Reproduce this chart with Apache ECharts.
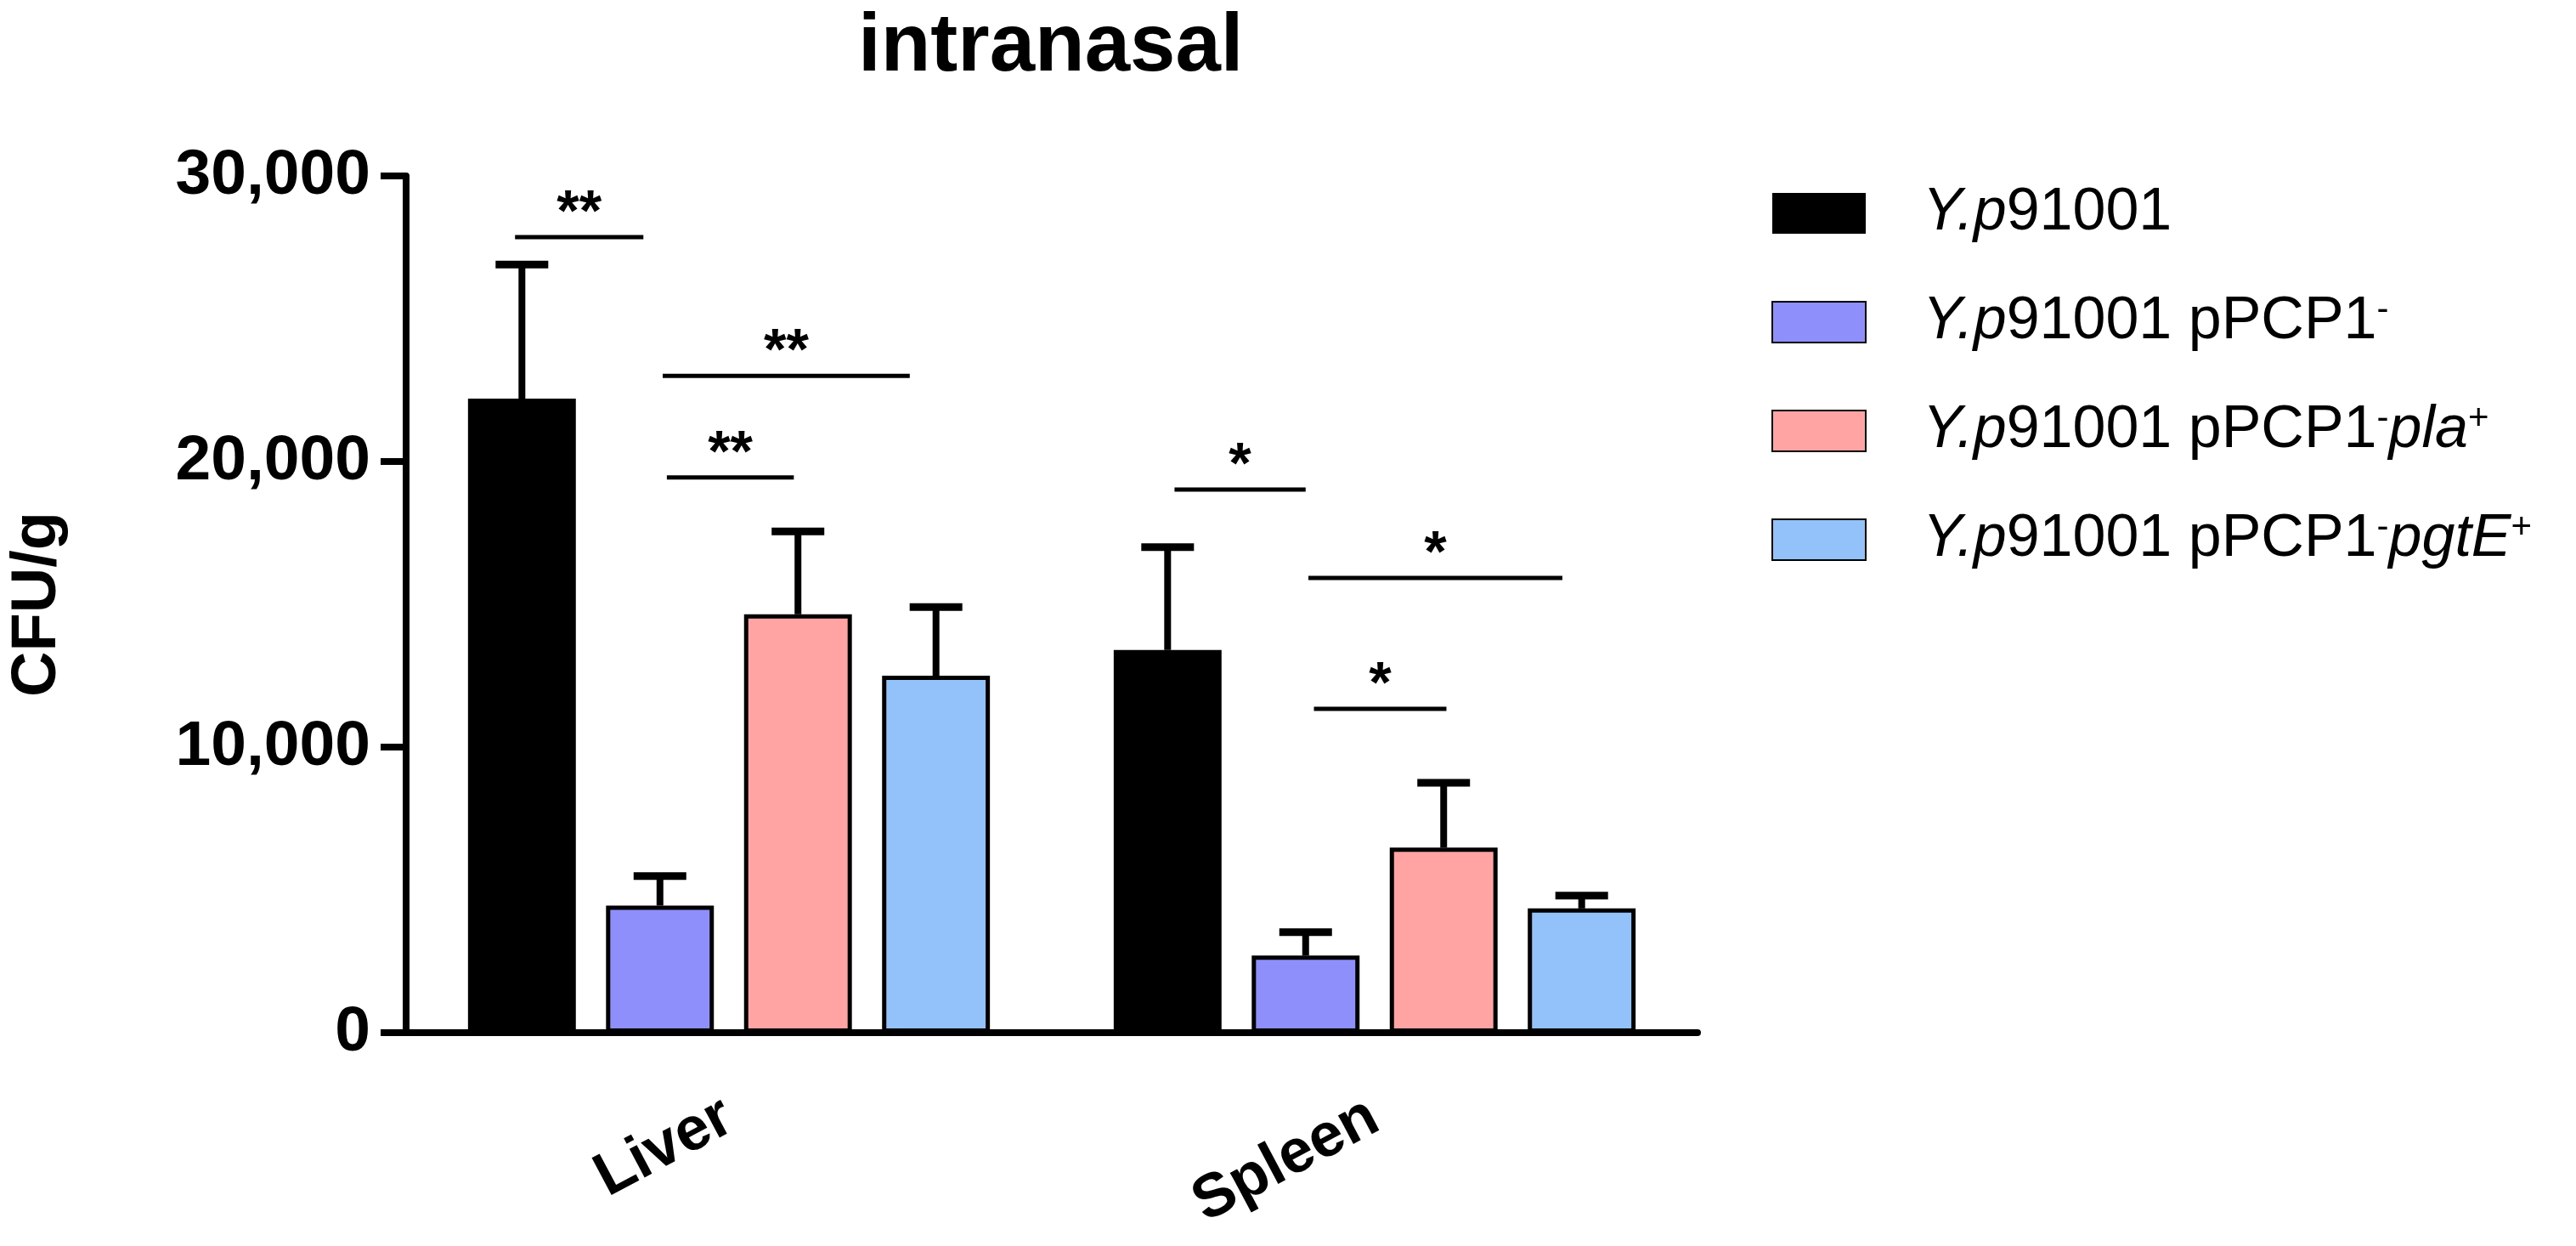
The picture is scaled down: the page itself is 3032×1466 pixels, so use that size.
<!DOCTYPE html>
<html>
<meta charset="utf-8" />
<head>
  <script src="https://cdn.jsdelivr.net/npm/echarts@6/dist/echarts.min.js"></script>
  <style>
    html, body { margin: 0; padding: 0; background: #fff; }
    .chart { width: 3032px; height: 1466px; }
  </style>
</head>
<body>
  <div class="chart" id="chart"></div>
  <script>
    // categories and values
    const categories = ["Liver", "Spleen"];
    const seriesNames = [
      "Y.p91001",
      "Y.p91001 pPCP1-",
      "Y.p91001 pPCP1-pla+",
      "Y.p91001 pPCP1-pgtE+",
    ];
    const ypMean = [22200, 13400];
    const pcpMean = [4450, 2700];
    const plaMean = [14650, 6480];
    const pgtEMean = [12500, 4350];
    // top of each error bar (mean + SD)
    const ypUpper = [26900, 17000];
    const pcpUpper = [5480, 3520];
    const plaUpper = [17550, 8750];
    const pgtEUpper = [14900, 4800];
    // significance brackets: category, height, from / to (bar slot units), mark
    const sigCat = [0, 0, 0, 1, 1, 1];
    const sigY = [27860, 23000, 19440, 19020, 15920, 11340];
    const sigFrom = [-0.05, 1.02, 1.05, 0.05, 1.02, 1.06];
    const sigTo = [0.88, 2.81, 1.97, 1.0, 2.86, 2.02];
    const sigMark = ["**", "**", "**", "*", "*", "*"];
    const yTicks = [0, 10000, 20000, 30000];

    const colors = ["#000000", "#8F8FFC", "#FFA3A3", "#93C1F9"];
    const means = [ypMean, pcpMean, plaMean, pgtEMean];
    const uppers = [ypUpper, pcpUpper, plaUpper, pgtEUpper];

    const FONT = "'Liberation Sans', Arial, sans-serif";
    const BAR_FRAC = 0.167;
    const GAP_FRAC = 0.28;

    function slotX(api, cat, slot) {
      const c = api.coord([cat, 0]);
      const band = api.size([1, 0])[0];
      const pitch = band * BAR_FRAC * (1 + GAP_FRAC);
      return c[0] + (slot - 1.5) * pitch;
    }

    const barSeries = seriesNames.map((name, i) => ({
      name: name,
      type: "bar",
      data: means[i],
      barWidth: BAR_FRAC * 100 + "%",
      barGap: GAP_FRAC * 100 + "%",
      itemStyle: {
        color: colors[i],
        borderColor: "#000",
        borderWidth: i === 0 ? 0 : 5,
      },
      emphasis: { disabled: true },
      z: 2,
    }));

    const errData = [];
    means.forEach((m, i) => {
      m.forEach((v, c) => errData.push([c, v, uppers[i][c], i]));
    });

    const errSeries = {
      type: "custom",
      name: "err",
      data: errData,
      encode: { x: 0, y: [1, 2] },
      z: 3,
      silent: true,
      renderItem: function (params, api) {
        const cat = api.value(0);
        const x = slotX(api, cat, api.value(3));
        const y0 = api.coord([cat, api.value(1)])[1];
        const y1 = api.coord([cat, api.value(2)])[1];
        return {
          type: "group",
          children: [
            { type: "line", shape: { x1: x, y1: y0, x2: x, y2: y1 }, style: { stroke: "#000", lineWidth: 8 } },
            { type: "line", shape: { x1: x - 31, y1: y1, x2: x + 31, y2: y1 }, style: { stroke: "#000", lineWidth: 9 } },
          ],
        };
      },
    };

    const sigSeries = {
      type: "custom",
      name: "sig",
      data: sigY.map((y, i) => [sigCat[i], y]),
      encode: { x: 0, y: 1 },
      z: 4,
      silent: true,
      renderItem: function (params, api) {
        const i = params.dataIndex;
        const cat = api.value(0);
        const y = api.coord([cat, api.value(1)])[1];
        const xa = slotX(api, cat, sigFrom[i]);
        const xb = slotX(api, cat, sigTo[i]);
        return {
          type: "group",
          children: [
            { type: "line", shape: { x1: xa, y1: y, x2: xb, y2: y }, style: { stroke: "#000", lineWidth: 5 } },
            {
              type: "text",
              x: (xa + xb) / 2,
              y: y - 27,
              style: {
                text: sigMark[i],
                fill: "#000",
                font: "bold 68px " + FONT,
                align: "center",
                verticalAlign: "middle",
              },
            },
          ],
        };
      },
    };

    const legendText = {
      "Y.p91001": "{i0|Y.p}{n|91001}",
      "Y.p91001 pPCP1-": "{i0|Y.p}{n|91001 pPCP1}{sup|-}",
      "Y.p91001 pPCP1-pla+": "{i0|Y.p}{n|91001 pPCP1}{sup|-}{i|pla}{sup|+}",
      "Y.p91001 pPCP1-pgtE+": "{i0|Y.p}{n|91001 pPCP1}{sup|-}{i|pgtE}{sup|+}",
    };

    const myChart = echarts.init(document.getElementById("chart"));
    const option = {
      backgroundColor: "#fff",
      animation: false,
      textStyle: { fontFamily: FONT, color: "#000" },
      title: {
        text: "intranasal",
        left: 1005,
        top: 4,
        textStyle: { fontFamily: FONT, fontSize: 96, fontWeight: "bold", color: "#000" },
      },
      legend: {
        data: seriesNames,
        orient: "vertical",
        left: 2080,
        top: 211,
        itemWidth: 110,
        itemHeight: 48,
        itemGap: 58,
        icon: "rect",
        selectedMode: false,
        formatter: (name) => legendText[name],
        textStyle: {
          color: "#000",
          fontFamily: FONT,
          fontSize: 70,
          rich: {
            i0: { fontSize: 70, lineHeight: 70, fontStyle: "italic", fontFamily: FONT, padding: [0, 0, 0, 62] },
            i: { fontSize: 70, lineHeight: 70, fontStyle: "italic", fontFamily: FONT },
            n: { fontSize: 70, lineHeight: 70, fontFamily: FONT },
            sup: { fontSize: 42, lineHeight: 42, fontFamily: FONT, verticalAlign: "top" },
          },
        },
      },
      grid: { left: 474, right: 1034, top: 207, bottom: 251, containLabel: false },
      xAxis: {
        type: "category",
        data: categories,
        axisLine: { lineStyle: { color: "#000", width: 8 } },
        axisTick: { alignWithLabel: true, length: 28, lineStyle: { color: "#000", width: 6 } },
        axisLabel: {
          rotate: 28,
          margin: 95,
          color: "#000",
          fontFamily: FONT,
          fontSize: 72,
          fontWeight: "bold",
        },
      },
      yAxis: {
        type: "value",
        min: 0,
        max: 30000,
        interval: 10000,
        name: "CFU/g",
        nameLocation: "middle",
        nameGap: 396,
        nameTextStyle: { color: "#000", fontFamily: FONT, fontSize: 74, fontWeight: "bold" },
        splitLine: { show: false },
        axisLine: { show: true, lineStyle: { color: "#000", width: 8 } },
        axisTick: { show: true, length: 30, lineStyle: { color: "#000", width: 8 } },
        axisLabel: {
          margin: 42,
          color: "#000",
          fontFamily: FONT,
          fontSize: 75,
          fontWeight: "bold",
          formatter: (v) => (yTicks.indexOf(v) >= 0 ? v.toLocaleString("en-US") : ""),
        },
      },
      series: [...barSeries, errSeries, sigSeries],
    };
    myChart.setOption(option);
  </script>
</body>
</html>
